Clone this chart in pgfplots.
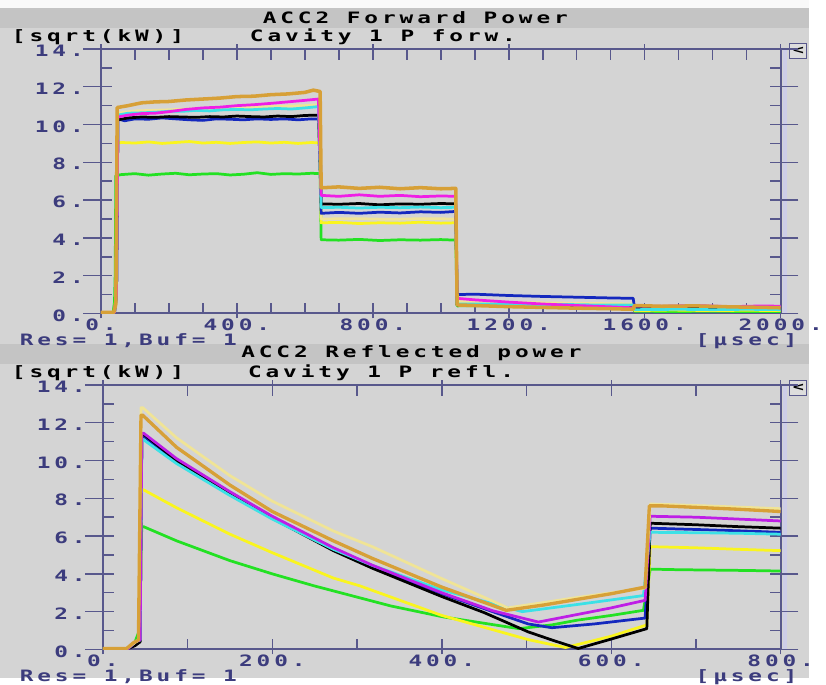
\documentclass[border=0pt]{standalone}
\usepackage{pgfplots}
\pgfplotsset{compat=1.18}
\usepackage{fontspec}
\setmainfont{DejaVu Sans Mono}[FakeStretch=1.45, LetterSpace=25]
\definecolor{bg}{RGB}{212,212,212}
\definecolor{band}{RGB}{196,196,196}
\definecolor{strip}{RGB}{205,205,232}
\definecolor{axc}{RGB}{88,88,140}
\definecolor{lab}{RGB}{60,60,125}
\definecolor{gold}{RGB}{215,160,55}
\definecolor{pale}{RGB}{240,228,150}
\definecolor{mag}{RGB}{240,30,230}
\definecolor{vio}{RGB}{190,30,230}
\definecolor{cya}{RGB}{60,225,230}
\definecolor{blu}{RGB}{20,40,190}
\definecolor{yel}{RGB}{250,245,30}
\definecolor{grn}{RGB}{35,225,35}
\newcommand{\tf}{\fontsize{16}{16}\selectfont\bfseries}
\pgfplotsset{
  scopeplot/.style={
    anchor=south west, scale only axis, ymin=0, ymax=14,
    axis line style={axc, line width=2pt},
    tick style={axc, line width=1.5pt},
    major tick length=11pt, minor tick length=11pt,
    tick align=inside,
    ytick={0,2,...,14}, minor ytick={1,3,...,13},
    yticklabels={0.,2.,4.,6.,8.,10.,12.,14.},
    tick label style={font=\tf, text=lab},
    yticklabel style={anchor=east, xshift=-14pt, yshift=-2pt},
    xticklabel style={yshift=-2pt},
    extra y ticks={0,2,...,14}, extra y tick labels={},
    extra y tick style={tick align=outside, major tick length=18pt},
    every axis plot/.append style={line width=2.8pt, line join=round},
  }
}
\begin{document}
\begin{tikzpicture}[x=1pt,y=1pt]
\fill[bg] (0,0) rectangle (826,692);
\fill[white!85!bg] (0,684) rectangle (826,692);
\fill[band] (0,663) rectangle (826,684);
\fill[band] (0,320) rectangle (826,341);
\node[font=\tf] at (424,674) {ACC2 Forward Power};
\node[font=\tf, anchor=west, inner sep=0pt] at (12,654) {[sqrt(kW)]};
\node[font=\tf, anchor=west, inner sep=0pt] at (255,654) {Cavity 1 P forw.};
\node[font=\tf, anchor=west, text=lab, inner sep=0pt] at (20,344) {Res= 1,Buf= 1};
\node[font=\tf, anchor=west, text=lab, inner sep=0pt] at (710,344) {[µsec]};
\node[font=\tf] at (420,331) {ACC2 Reflected power};
\node[font=\tf, anchor=west, inner sep=0pt] at (12,311) {[sqrt(kW)]};
\node[font=\tf, anchor=west, inner sep=0pt] at (253,311) {Cavity 1 P refl.};
\node[font=\tf, anchor=west, text=lab, inner sep=0pt] at (20,1) {Res= 1,Buf= 1};
\node[font=\tf, anchor=west, text=lab, inner sep=0pt] at (710,1) {[µsec]};
% side strips and buttons
\fill[strip] (799,372) rectangle (803,642);
\fill[strip] (799,29) rectangle (803,299);
\draw[axc, line width=1pt, fill=bg!80!white] (806,632) rectangle (823,648);
\node[font=\fontsize{13}{13}\selectfont\bfseries, inner sep=0pt] at (815,640) {<};
\draw[axc, line width=1pt, fill=bg!80!white] (806,288) rectangle (823,304);
\node[font=\fontsize{13}{13}\selectfont\bfseries, inner sep=0pt] at (815,296) {<};

\begin{axis}[scopeplot, at={(103pt,372pt)}, width=694pt, height=270pt,
  xmin=0, xmax=2000,
  xtick={0,400,...,2000}, minor xtick={100,200,...,1900},
  xticklabels={0.,400.,800.,1200.,1600.,2000.},
  extra x ticks={0,400,...,2000}, extra x tick labels={},
  extra x tick style={tick align=outside, major tick length=5pt},
]
\addplot[grn] coordinates {(0,0.05) (36,0.05) (40,0.6) (42,2) (44,7.3) (60,7.35) (100,7.4) (140,7.32) (180,7.38) (220,7.42) (260,7.34) (300,7.38) (340,7.4) (380,7.33) (420,7.37) (460,7.45) (500,7.36) (540,7.4) (580,7.38) (620,7.42) (645,7.4) (648,3.9) (700,3.88) (760,3.92) (820,3.86) (880,3.9) (940,3.88) (1000,3.91) (1044,3.88) (1048,0.4) (1150,0.42) (1250,0.38) (1350,0.4) (1450,0.36) (1566,0.35) (1570,0.12) (1680,0.1) (1800,0.12) (1900,0.1) (2000,0.1)};
\addplot[yel] coordinates {(0,0.05) (38,0.05) (44,0.8) (47,9.0) (60,9.05) (100,9.02) (140,9.08) (180,9.0) (220,9.05) (260,9.1) (300,9.02) (340,9.06) (380,9.0) (420,9.05) (460,9.08) (500,9.02) (540,9.06) (580,9.0) (620,9.05) (645,9.02) (648,4.8) (700,4.82) (760,4.76) (820,4.8) (880,4.78) (940,4.83) (1000,4.78) (1044,4.8) (1048,0.5) (1150,0.48) (1250,0.45) (1350,0.47) (1450,0.42) (1566,0.42) (1570,0.15) (1680,0.18) (1800,0.15) (1900,0.17) (2000,0.15)};
\addplot[pale] coordinates {(0,0.05) (40,0.05) (46,1) (50,10.6) (100,10.72) (200,10.78) (300,10.85) (400,10.9) (500,10.95) (600,11.0) (640,11.05) (648,5.0) (750,5.02) (850,4.98) (950,5.02) (1044,5.0) (1048,0.62) (1200,0.58) (1350,0.55) (1566,0.5) (1570,0.3) (1750,0.32) (2000,0.3)};
\addplot[blu] coordinates {(0,0.05) (40,0.05) (46,1) (50,10.3) (70,10.2) (100,10.3) (140,10.28) (180,10.35) (220,10.3) (260,10.25) (300,10.22) (340,10.3) (380,10.28) (420,10.25) (460,10.3) (500,10.27) (540,10.3) (580,10.25) (620,10.3) (645,10.28) (648,5.3) (700,5.35) (760,5.3) (820,5.36) (880,5.32) (940,5.38) (1000,5.35) (1044,5.4) (1048,1.0) (1100,1.02) (1200,0.95) (1300,0.9) (1400,0.86) (1500,0.82) (1566,0.8) (1570,0.3) (1680,0.28) (1800,0.3) (1900,0.27) (2000,0.28)};
\addplot[black] coordinates {(0,0.05) (40,0.05) (46,1) (50,10.25) (80,10.35) (120,10.4) (160,10.38) (200,10.42) (240,10.4) (280,10.38) (320,10.42) (360,10.4) (400,10.45) (440,10.42) (480,10.4) (520,10.45) (560,10.42) (600,10.48) (640,10.5) (648,5.8) (700,5.78) (760,5.82) (820,5.75) (880,5.8) (940,5.78) (1000,5.82) (1044,5.8) (1048,0.45) (1150,0.42) (1250,0.4) (1350,0.38) (1450,0.37) (1566,0.35) (1570,0.25) (1700,0.27) (1800,0.25) (1900,0.26) (2000,0.25)};
\addplot[cya] coordinates {(0,0.05) (40,0.05) (46,1) (50,10.5) (80,10.6) (120,10.62) (160,10.65) (200,10.7) (240,10.7) (280,10.75) (320,10.72) (360,10.78) (400,10.8) (440,10.78) (480,10.82) (520,10.85) (560,10.82) (600,10.88) (640,10.95) (648,5.6) (700,5.62) (760,5.58) (820,5.62) (880,5.6) (940,5.63) (1000,5.6) (1044,5.62) (1048,0.5) (1150,0.5) (1250,0.47) (1350,0.48) (1450,0.45) (1566,0.45) (1570,0.2) (1700,0.22) (1800,0.2) (1900,0.22) (2000,0.2)};
\addplot[mag] coordinates {(0,0.05) (40,0.05) (46,1) (50,10.4) (80,10.5) (120,10.58) (160,10.6) (200,10.68) (250,10.8) (300,10.88) (350,10.92) (400,11.0) (450,11.05) (500,11.12) (550,11.2) (600,11.28) (640,11.35) (648,6.25) (700,6.2) (760,6.28) (820,6.2) (880,6.25) (940,6.18) (1000,6.22) (1044,6.2) (1048,0.8) (1100,0.72) (1200,0.6) (1300,0.5) (1400,0.42) (1500,0.35) (1566,0.3) (1570,0.4) (1650,0.38) (1750,0.42) (1850,0.36) (1950,0.4) (2000,0.38)};
\addplot[gold, line width=3.6pt] coordinates {(0,0.05) (38,0.05) (44,0.5) (48,10.9) (80,11.0) (120,11.15) (160,11.2) (200,11.22) (250,11.3) (300,11.35) (350,11.4) (400,11.48) (450,11.5) (500,11.58) (550,11.62) (600,11.7) (625,11.82) (645,11.75) (648,6.65) (700,6.7) (760,6.62) (820,6.68) (880,6.6) (940,6.66) (1000,6.6) (1044,6.62) (1048,0.45) (1100,0.42) (1200,0.36) (1300,0.32) (1400,0.28) (1500,0.25) (1566,0.22) (1570,0.42) (1650,0.38) (1750,0.4) (1850,0.35) (1950,0.32) (2000,0.3)};
\end{axis}

\begin{axis}[scopeplot, at={(105pt,29pt)}, width=692pt, height=270pt,
  xmin=0, xmax=800,
  xtick={0,200,...,800}, minor xtick={100,300,500,700},
  xticklabels={0.,200.,400.,600.,800.},
  extra x ticks={0,200,...,800}, extra x tick labels={},
  extra x tick style={tick align=outside, major tick length=5pt},
]
\addplot[grn] coordinates {(0,0.05) (30,0.05) (38,0.4) (43,1) (44,4) (46,6.5) (48,6.5) (87,5.75) (150,4.7) (200,4.0) (249,3.37) (272,3.1) (340,2.3) (402,1.72) (491,1.1) (530,1.3) (560,1.55) (600,1.8) (638,2.07) (646,4.25) (680,4.22) (720,4.2) (760,4.18) (800,4.15)};
\addplot[yel] coordinates {(0,0.05) (30,0.05) (38,0.3) (44,0.5) (46,8.45) (48,8.45) (87,7.5) (150,6.1) (200,5.12) (272,3.78) (303,3.37) (400,1.8) (502,0.52) (546,0.1) (600,0.7) (642,1.3) (646,5.44) (700,5.38) (750,5.3) (800,5.23)};
\addplot[blu] coordinates {(0,0.05) (30,0.05) (38,0.3) (44,0.5) (46,11.3) (48,11.3) (87,9.95) (150,8.2) (200,6.95) (272,5.3) (318,4.4) (400,2.95) (460,2.0) (502,1.35) (530,1.15) (580,1.35) (640,1.66) (646,6.42) (700,6.35) (750,6.28) (800,6.2)};
\addplot[black] coordinates {(0,0.05) (30,0.05) (38,0.2) (44,0.4) (46,11.4) (48,11.4) (87,10.0) (150,8.25) (200,6.95) (272,5.23) (318,4.3) (400,2.8) (450,1.95) (502,0.93) (530,0.5) (561,0.05) (600,0.55) (642,1.1) (646,6.68) (700,6.6) (750,6.5) (800,6.42)};
\addplot[cya] coordinates {(0,0.05) (30,0.05) (38,0.4) (44,0.5) (46,11.1) (48,11.1) (87,9.84) (150,8.15) (200,6.9) (272,5.3) (318,4.45) (400,3.15) (495,2.0) (560,2.38) (638,2.85) (646,6.2) (700,6.18) (750,6.15) (800,6.1)};
\addplot[vio] coordinates {(0,0.05) (30,0.05) (38,0.4) (44,0.5) (46,11.45) (48,11.45) (87,10.1) (150,8.35) (200,7.05) (272,5.39) (318,4.46) (400,3.0) (460,2.05) (514,1.45) (560,1.85) (600,2.2) (640,2.6) (646,7.05) (700,7.0) (750,6.9) (800,6.8)};
\addplot[pale] coordinates {(0,0.05) (28,0.05) (36,0.3) (42,0.5) (45,12.8) (47,12.8) (87,11.2) (150,9.2) (200,7.85) (272,6.27) (318,5.44) (400,3.75) (478,2.2) (560,2.75) (640,3.25) (646,7.7) (700,7.62) (800,7.45)};
\addplot[gold, line width=3.4pt] coordinates {(0,0.05) (28,0.05) (36,0.35) (42,0.5) (45,12.4) (47,12.4) (87,10.7) (150,8.7) (200,7.3) (272,5.75) (318,4.82) (400,3.3) (476,2.07) (520,2.35) (560,2.65) (600,2.95) (640,3.3) (645,7.6) (660,7.6) (700,7.52) (750,7.42) (800,7.3)};
\end{axis}
\end{tikzpicture}
\end{document}
